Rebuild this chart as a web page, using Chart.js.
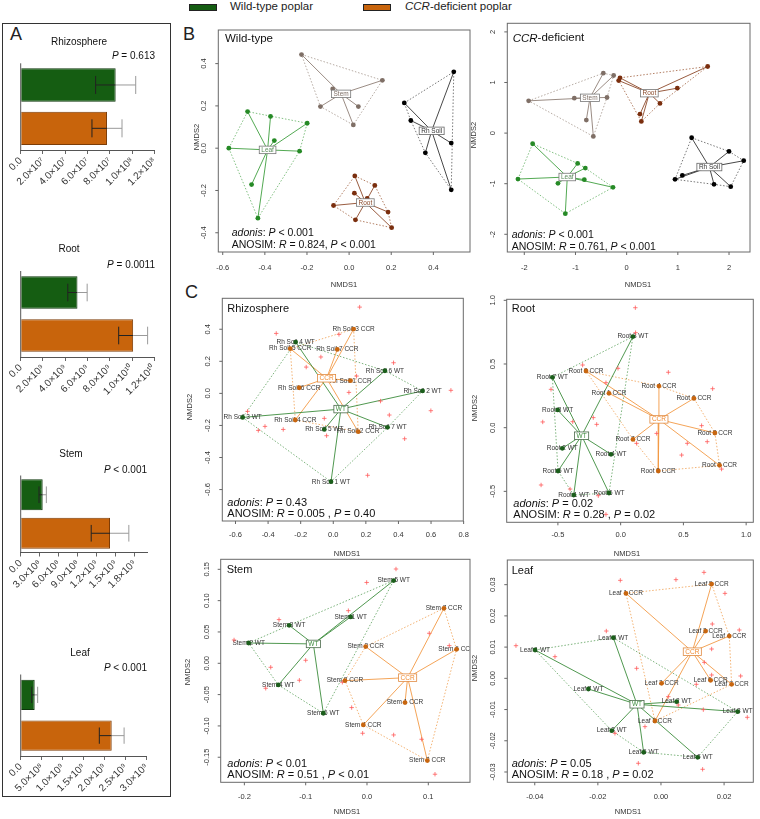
<!DOCTYPE html>
<html><head><meta charset="utf-8">
<script src="https://cdn.jsdelivr.net/npm/chart.js@4.4.1/dist/chart.umd.min.js"></script>
<style>
body{margin:0;background:#fff;width:760px;height:819px;position:relative;overflow:hidden;font-family:"Liberation Sans",Arial,Helvetica,sans-serif}
canvas{position:absolute}
.t{position:absolute;white-space:nowrap;color:#222;line-height:1}
.sw{position:absolute;height:5px;width:26px;border:1px solid #222}
</style></head><body>
<div class="sw" style="left:189px;top:4px;background:#155d12"></div>
<div class="t" style="left:230px;top:1px;font-size:11.5px">Wild-type poplar</div>
<div class="sw" style="left:363px;top:4px;background:#c8640c"></div>
<div class="t" style="left:405px;top:1px;font-size:11.5px"><i>CCR</i>-deficient poplar</div>
<div style="position:absolute;left:2px;top:23px;width:167px;height:772px;border:1.5px solid #333"></div>
<div class="t" style="left:10px;top:24.7px;font-size:18px">A</div>
<div class="t" style="left:183px;top:24.7px;font-size:18px">B</div>
<div class="t" style="left:185px;top:282.8px;font-size:18px">C</div>
<script>
// ================= DATA =================
// ---- Panel A: bar charts (mean, SD) ----
const barGroups = ["Wild-type poplar", "CCR-deficient poplar"];
const rhizoMean = [8.53e7, 7.75e7];
const rhizoSD = [1.8e7, 1.35e7];
const rootMean = [5.1e9, 1.01e10];
const rootSD = [0.87e9, 1.3e9];
const stemMean = [3.47e8, 1.41e9];
const stemSD = [5.8e7, 2.97e8];
const leafMean = [3.33e8, 2.167e9];
const leafSD = [7.1e7, 2.95e8];
const rhizoTicks = [0, 2e7, 4e7, 6e7, 8e7, 1e8, 1.2e8];
const rhizoTickLabels = ["0.0","2.0×10⁷","4.0×10⁷","6.0×10⁷","8.0×10⁷","1.0×10⁸","1.2×10⁸"];
const rootTicks = [0, 2e9, 4e9, 6e9, 8e9, 1e10, 1.2e10];
const rootTickLabels = ["0.0","2.0×10⁹","4.0×10⁹","6.0×10⁹","8.0×10⁹","1.0×10¹⁰","1.2×10¹⁰"];
const stemTicks = [0, 3e8, 6e8, 9e8, 1.2e9, 1.5e9, 1.8e9];
const stemTickLabels = ["0.0","3.0×10⁸","6.0×10⁸","9.0×10⁸","1.2×10⁹","1.5×10⁹","1.8×10⁹"];
const leafTicks = [0, 5e8, 1e9, 1.5e9, 2e9, 2.5e9, 3e9];
const leafTickLabels = ["0.0","5.0×10⁸","1.0×10⁹","1.5×10⁹","2.0×10⁹","2.5×10⁹","3.0×10⁹"];

// ---- Panel B: NMDS, wild-type ----
const bWtLeaf = [[-0.482,0.173],[-0.373,0.150],[-0.199,0.118],[-0.355,0.036],[-0.571,0.0],[-0.235,-0.014],[-0.463,-0.172],[-0.433,-0.331]];
const bWtLeafC = [-0.387,-0.008];
const bWtStem = [[-0.226,0.443],[0.158,0.321],[-0.078,0.280],[-0.136,0.197],[0.044,0.197],[0.020,0.110]];
const bWtStemC = [-0.038,0.257];
const bWtRhSoil = [[0.497,0.361],[0.262,0.214],[0.293,0.131],[0.485,0.024],[0.362,-0.022],[0.485,-0.197]];
const bWtRhSoilC = [0.392,0.082];
const bWtRoot = [[0.027,-0.131],[0.122,-0.176],[0.025,-0.213],[0.086,-0.238],[-0.074,-0.271],[0.185,-0.302],[0.030,-0.339],[0.202,-0.376]];
const bWtRootC = [0.077,-0.257];
// ---- Panel B: NMDS, CCR-deficient ----
const bCcrStem = [[-1.915,0.638],[-1.023,0.691],[-0.456,1.184],[-0.254,1.138],[-0.384,0.704],[-0.788,0.257],[-0.651,-0.066]];
const bCcrStemC = [-0.717,0.697];
const bCcrRoot = [[-0.156,1.039],[-0.130,1.092],[1.583,1.316],[0.990,0.888],[0.651,0.586],[0.261,0.375],[0.287,0.230]];
const bCcrRootC = [0.443,0.789];
const bCcrLeaf = [[-1.837,-0.211],[-0.958,-0.599],[-0.808,-0.691],[-2.124,-0.908],[-1.342,-0.993],[-0.827,-0.921],[-0.267,-1.072],[-1.199,-1.592]];
const bCcrLeafC = [-1.160,-0.868];
const bCcrRhSoil = [[1.270,-0.092],[2.0,-0.362],[2.287,-0.546],[1.088,-0.836],[0.945,-0.914],[1.707,-1.013],[2.033,-1.059]];
const bCcrRhSoilC = [1.616,-0.671];

// ---- Panel C: Rhizosphere ----
const cRhWtNames = ["Rh Soil 4 WT","Rh Soil 6 WT","Rh Soil 2 WT","Rh Soil 3 WT","Rh Soil 5 WT","Rh Soil 7 WT","Rh Soil 1 WT"];
const cRhWt = [[-0.231,0.320],[0.317,0.141],[0.548,0.015],[-0.556,-0.150],[-0.055,-0.225],[0.333,-0.212],[-0.014,-0.551]];
const cRhWtC = [0.047,-0.098];
const cRhCcrNames = ["Rh Soil 3 CCR","Rh Soil 5 CCR","Rh Soil 7 CCR","Rh Soil 1 CCR","Rh Soil 6 CCR","Rh Soil 4 CCR","Rh Soil 2 CCR"];
const cRhCcr = [[0.125,0.401],[-0.264,0.279],[0.025,0.274],[0.106,0.079],[-0.209,0.035],[-0.233,-0.166],[0.153,-0.239]];
const cRhCcrC = [-0.041,0.094];
const cRhSpecies = [[0.162,0.538],[-0.350,0.374],[0.035,0.368],[-0.076,0.227],[-0.166,0.164],[0.370,0.191],[0.143,0.108],[0.096,0.006],[0.722,0.019],[0.290,-0.048],[0.599,-0.108],[0.344,-0.135],[-0.526,-0.112],[-0.460,-0.231],[-0.419,-0.206],[-0.307,-0.225],[-0.055,-0.156],[-0.041,-0.264],[0.438,-0.283],[0.211,-0.511]];
// ---- Panel C: Root ----
const cRootWtNames = ["Root 3 WT","Root 7 WT","Root 8 WT","Root 2 WT","Root 4 WT","Root 5 WT","Root 1 WT","Root 6 WT"];
const cRootWt = [[0.098,0.715],[-0.544,0.395],[-0.502,0.139],[-0.465,-0.162],[-0.077,-0.209],[-0.499,-0.340],[-0.374,-0.529],[-0.093,-0.513]];
const cRootWtC = [-0.311,-0.063];
const cRootCcrNames = ["Root 8 CCR","Root 4 CCR","Root 1 CCR","Root 6 CCR","Root 2 CCR","Root 7 CCR","Root 3 CCR","Root 5 CCR"];
const cRootCcr = [[-0.276,0.445],[0.305,0.327],[-0.093,0.270],[0.584,0.230],[0.751,-0.042],[0.098,-0.092],[0.788,-0.296],[0.300,-0.340]];
const cRootCcrC = [0.305,0.065];
const cRootSpecies = [[0.117,0.942],[0.119,0.746],[-0.303,0.492],[-0.021,0.466],[0.380,0.435],[-0.117,0.353],[0.733,0.306],[-0.555,0.301],[-0.621,0.045],[-0.382,0.047],[-0.218,0.079],[-0.191,0.026],[0.645,0.016],[0.287,-0.045],[0.690,-0.110],[0.531,-0.123],[0.127,-0.123],[0.486,-0.215],[0.804,-0.325],[-0.634,-0.450],[-0.403,-0.482],[-0.178,-0.534],[-0.117,-0.681]];
// ---- Panel C: Stem ----
const cStemWtNames = ["Stem 5 WT","Stem 1 WT","Stem 3 WT","Stem 2 WT","Stem 4 WT","Stem 6 WT"];
const cStemWt = [[0.0435,0.132],[-0.0266,0.074],[-0.127,0.0606],[-0.193,0.0324],[-0.1446,-0.0346],[-0.0712,-0.0798]];
const cStemWtC = [-0.0875,0.0309];
const cStemCcrNames = ["Stem 7 CCR","Stem 6 CCR","Stem 3 CCR","Stem 8 CCR","Stem 1 CCR","Stem 4 CCR","Stem 2 CCR"];
const cStemCcr = [[0.1255,0.0878],[0.146,0.0223],[-0.0022,0.0266],[-0.0359,-0.0277],[0.062,-0.0628],[-0.006,-0.0984],[0.0984,-0.1553]];
const cStemCcrC = [0.0663,-0.0229];
const cStemSpecies = [[0.0473,0.1505],[-0.0005,0.129],[-0.0304,0.084],[-0.1435,0.0697],[-0.2168,0.0372],[0.1016,0.0479],[0.1342,0.0282],[-0.1,0.0048],[-0.157,-0.0064],[-0.1103,-0.0271],[-0.1652,-0.0399],[-0.0402,-0.0303],[-0.025,-0.0707],[-0.0071,-0.1117],[0.0435,-0.1144],[0.0891,-0.1213],[0.1109,-0.1771]];
// ---- Panel C: Leaf ----
const cLeafWtNames = ["Leaf 1 WT","Leaf 4 WT","Leaf 7 WT","Leaf 2 WT","Leaf 8 WT","Leaf 3 WT","Leaf 5 WT","Leaf 6 WT"];
const cLeafWt = [[-0.0399,0.00907],[-0.0151,0.0130],[-0.0230,-0.00342],[0.00496,-0.00747],[0.0243,-0.01067],[-0.0156,-0.01676],[-0.0055,-0.02369],[0.01162,-0.02529]];
const cLeafWtC = [-0.0076,-0.00832];
const cLeafCcrNames = ["Leaf 1 CCR","Leaf 5 CCR","Leaf 2 CCR","Leaf 4 CCR","Leaf 3 CCR","Leaf 6 CCR","Leaf 7 CCR","Leaf 8 CCR"];
const cLeafCcr = [[-0.01109,0.02721],[0.01606,0.0302],[0.01415,0.01515],[0.02165,0.01355],[0.0002,-0.0016],[0.01574,-0.00064],[0.0224,-0.00192],[-0.0019,-0.01366]];
const cLeafCcrC = [0.00993,0.00854];
const cLeafSpecies = [[-0.04595,0.01046],[-0.03359,0.00694],[-0.01289,0.03138],[0.00475,0.0316],[0.01363,0.03394],[0.02028,0.02721],[0.01627,0.0174],[0.02482,0.01548],[-0.01732,0.01515],[0.01606,0.00939],[0.01373,0.00512],[-0.00771,0.0032],[0.0112,-0.00192],[0.01606,0.00107],[0.02525,0.00075],[0.00232,-0.00587],[0.00549,-0.00854],[0.01342,-0.01003],[0.02736,-0.01249],[-0.00507,-0.01547],[-0.00718,-0.02721],[0.0132,-0.02914],[-0.01458,-0.01761]];

// ---- Tick labels for NMDS panels ----
const bWtXTicks = [-0.6,-0.4,-0.2,0,0.2,0.4], bWtXLabels = ["-0.6","-0.4","-0.2","0.0","0.2","0.4"];
const bWtYTicks = [-0.4,-0.2,0,0.2,0.4], bWtYLabels = ["-0.4","-0.2","0.0","0.2","0.4"];
const bCcrXTicks = [-2,-1,0,1,2], bCcrXLabels = ["-2","-1","0","1","2"];
const bCcrYTicks = [-2,-1,0,1,2], bCcrYLabels = ["-2","-1","0","1","2"];
const cRhXTicks = [-0.6,-0.4,-0.2,0,0.2,0.4,0.6,0.8], cRhXLabels = ["-0.6","-0.4","-0.2","0.0","0.2","0.4","0.6","0.8"];
const cRhYTicks = [-0.6,-0.4,-0.2,0,0.2,0.4], cRhYLabels = ["-0.6","-0.4","-0.2","0.0","0.2","0.4"];
const cRootXTicks = [-0.5,0,0.5,1.0], cRootXLabels = ["-0.5","0.0","0.5","1.0"];
const cRootYTicks = [-0.5,0,0.5,1.0], cRootYLabels = ["-0.5","0.0","0.5","1.0"];
const cStemXTicks = [-0.2,-0.1,0,0.1], cStemXLabels = ["-0.2","-0.1","0.0","0.1"];
const cStemYTicks = [-0.15,-0.10,-0.05,0,0.05,0.10,0.15], cStemYLabels = ["-0.15","-0.10","-0.05","0.00","0.05","0.10","0.15"];
const cLeafXTicks = [-0.04,-0.02,0,0.02], cLeafXLabels = ["-0.04","-0.02","0.00","0.02"];
const cLeafYTicks = [-0.03,-0.02,-0.01,0,0.01,0.02,0.03], cLeafYLabels = ["-0.03","-0.02","-0.01","0.00","0.01","0.02","0.03"];

// ================= DRAWING =================
const FONT = '"Liberation Sans", Arial, Helvetica, sans-serif';
const barColors = ['#155d12', '#c8640c'];
const barEdges = ['#0c360a', '#7c3c06'];

function mk(x, y, w, h) {
  const c = document.createElement('canvas');
  c.width = w; c.height = h;
  c.style.left = x + 'px'; c.style.top = y + 'px';
  c.style.width = w + 'px'; c.style.height = h + 'px';
  document.body.appendChild(c);
  return c;
}
function line(ctx, x1, y1, x2, y2) { ctx.beginPath(); ctx.moveTo(x1, y1); ctx.lineTo(x2, y2); ctx.stroke(); }
function segWidth(ctx, segs, size) {
  let w = 0;
  for (const [t, it] of segs) { ctx.font = (it ? 'italic ' : '') + size + 'px ' + FONT; w += ctx.measureText(t).width; }
  return w;
}
function segText(ctx, segs, x, y, size, color) {
  let cx = x;
  ctx.textAlign = 'left'; ctx.textBaseline = 'middle'; ctx.fillStyle = color || '#111';
  for (const [t, it] of segs) {
    ctx.font = (it ? 'italic ' : '') + size + 'px ' + FONT;
    ctx.fillText(t, cx, y);
    cx += ctx.measureText(t).width;
  }
}

function barPanel(o) {
  const [l, t, r, b] = o.area;
  const ct = Math.floor(t) - 32, cw = 175, ch = Math.ceil(b) + 50 - ct;
  const cv = mk(0, ct, cw, ch);
  new Chart(cv, {
    type: 'bar',
    data: { labels: barGroups, datasets: [{ data: o.mean, backgroundColor: barColors, borderColor: barEdges, borderWidth: 1, barPercentage: o.bp, categoryPercentage: 1 }] },
    options: {
      indexAxis: 'y', responsive: false, animation: false, devicePixelRatio: 1,
      layout: { padding: { left: l, right: cw - r, top: t - ct, bottom: 0 } },
      plugins: { legend: { display: false }, tooltip: { enabled: false } },
      scales: {
        x: {
          type: 'linear', min: 0, max: o.max,
          afterBuildTicks: s => { s.ticks = o.ticks.map(v => ({ value: v })); },
          afterFit: s => { s.height = ch - (b - ct); s.paddingLeft = 0; s.paddingRight = 0; },
          ticks: { minRotation: 45, maxRotation: 45, autoSkip: false, color: '#333', padding: 1, font: { family: FONT, size: 10 }, callback: (v, i) => o.labels[i] },
          grid: { drawOnChartArea: false, drawTicks: true, tickLength: 4, color: '#666' },
          border: { display: true, color: '#555' }
        },
        y: { display: false }
      }
    },
    plugins: [{
      id: 'err',
      afterDatasetsDraw(chart) {
        const ctx = chart.ctx, meta = chart.getDatasetMeta(0), xs = chart.scales.x, a = chart.chartArea;
        ctx.save(); ctx.lineWidth = 1;
        meta.data.forEach((bar, i) => {
          const m = o.mean[i], s = o.sd[i];
          const xl = xs.getPixelForValue(m - s), xm = xs.getPixelForValue(m), xh = xs.getPixelForValue(m + s);
          const y = bar.y, c = bar.height * 0.27;
          ctx.strokeStyle = '#222'; line(ctx, xl, y, xm, y); line(ctx, xl, y - c, xl, y + c);
          ctx.strokeStyle = '#9a9a9a'; line(ctx, xm, y, xh, y); line(ctx, xh, y - c, xh, y + c);
        });
        ctx.strokeStyle = '#555'; line(ctx, a.left, a.top, a.left, a.bottom);
        ctx.fillStyle = '#111'; ctx.font = '10px ' + FONT; ctx.textAlign = 'center'; ctx.textBaseline = 'middle';
        ctx.fillText(o.title, o.titleX, o.titleY - ct);
        const w = segWidth(ctx, o.p, 10);
        segText(ctx, o.p, o.pRight - w, o.pY - ct, 10, '#111');
        ctx.restore();
      }
    }]
  });
}

function nmds(o) {
  const [l, t, r, b] = o.area;
  const cl = Math.floor(l) - 45, ct = Math.floor(t) - 12;
  const cw = Math.ceil(r) + 10 - cl, ch = Math.ceil(b) + 42 - ct;
  const cv = mk(cl, ct, cw, ch);
  const ds = [];
  o.groups.forEach(g => ds.push({ kind: 'pts', data: g.pts.map(p => ({ x: p[0], y: p[1] })), pointRadius: 2.4, pointBackgroundColor: g.pt, pointBorderWidth: 0, pointBorderColor: g.pt }));
  ds.push({ kind: 'sp', data: (o.species || []).map(p => ({ x: p[0], y: p[1] })), pointStyle: 'cross', pointRadius: 2.2, pointBorderColor: '#ff5a5a', pointBorderWidth: 0.8 });
  o.groups.forEach(g => g.pts.forEach(p => ds.push({ data: [{ x: g.c[0], y: g.c[1] }, { x: p[0], y: p[1] }], showLine: true, borderColor: g.line, borderWidth: 0.9, pointRadius: 0 })));
  o.groups.forEach(g => {
    const d = g.hull.map(i => ({ x: g.pts[i][0], y: g.pts[i][1] })); d.push(d[0]);
    ds.push({ data: d, showLine: true, borderColor: g.hullc, borderWidth: 0.8, borderDash: [1.5, 1.8], pointRadius: 0 });
  });
  new Chart(cv, {
    type: 'scatter',
    data: { datasets: ds },
    options: {
      responsive: false, animation: false, devicePixelRatio: 1,
      layout: { padding: { left: l - cl, top: t - ct, right: cl + cw - r, bottom: ct + ch - b } },
      plugins: { legend: { display: false }, tooltip: { enabled: false } },
      scales: {
        x: { type: 'linear', display: false, min: o.x[0], max: o.x[1] },
        y: { type: 'linear', display: false, min: o.y[0], max: o.y[1] }
      }
    },
    plugins: [{
      id: 'deco',
      beforeDatasetDraw(chart, args) {
        if (!o.labels || chart.data.datasets[args.index].kind !== 'sp') return;
        const ctx = chart.ctx, a = chart.chartArea, xs = chart.scales.x, ys = chart.scales.y;
        ctx.save(); ctx.beginPath(); ctx.rect(a.left, a.top, a.right - a.left, a.bottom - a.top); ctx.clip();
        ctx.font = '6.5px ' + FONT; ctx.fillStyle = '#333'; ctx.textAlign = 'center'; ctx.textBaseline = 'middle';
        o.groups.forEach(g => g.pts.forEach((p, i) => ctx.fillText(g.names[i], xs.getPixelForValue(p[0]), ys.getPixelForValue(p[1]))));
        ctx.restore();
      },
      afterDraw(chart) {
        const ctx = chart.ctx, a = chart.chartArea, xs = chart.scales.x, ys = chart.scales.y;
        ctx.save();
        // centroid label boxes
        ctx.font = '6.5px ' + FONT; ctx.textAlign = 'center'; ctx.textBaseline = 'middle';
        o.groups.forEach(g => {
          const px = xs.getPixelForValue(g.c[0]), py = ys.getPixelForValue(g.c[1]);
          const w = ctx.measureText(g.box).width + 4, h = 7.5;
          ctx.fillStyle = '#fff'; ctx.fillRect(px - w / 2, py - h / 2, w, h);
          ctx.strokeStyle = g.boxBorder; ctx.lineWidth = 0.8; ctx.strokeRect(px - w / 2, py - h / 2, w, h);
          ctx.fillStyle = g.boxText; ctx.fillText(g.box, px, py + 0.3);
        });
        // frame
        ctx.strokeStyle = '#6a6a6a'; ctx.lineWidth = 1;
        ctx.strokeRect(a.left, a.top, a.right - a.left, a.bottom - a.top);
        // ticks
        ctx.font = '7.5px ' + FONT; ctx.fillStyle = '#333'; ctx.strokeStyle = '#666';
        o.xt.forEach((v, i) => {
          const px = xs.getPixelForValue(v);
          line(ctx, px, a.bottom, px, a.bottom + 3);
          ctx.fillText(o.xtl[i], px, a.bottom + o.xoff);
        });
        o.yt.forEach((v, i) => {
          const py = ys.getPixelForValue(v);
          line(ctx, a.left - 3, py, a.left, py);
          ctx.save(); ctx.translate(a.left - 14, py); ctx.rotate(-Math.PI / 2); ctx.fillText(o.ytl[i], 0, 0); ctx.restore();
        });
        // axis titles
        ctx.fillText('NMDS1', o.xlab[0] - cl, o.xlab[1] - ct);
        ctx.save(); ctx.translate(o.ylab[0] - cl, o.ylab[1] - ct); ctx.rotate(-Math.PI / 2); ctx.fillText('NMDS2', 0, 0); ctx.restore();
        // titles and statistics
        segText(ctx, o.title, o.titleXY[0] - cl, o.titleXY[1] - ct, o.titleSize, '#111');
        segText(ctx, o.stats[0], o.statsX - cl, o.statsY[0] - ct, o.statsSize, '#111');
        segText(ctx, o.stats[1], o.statsX - cl, o.statsY[1] - ct, o.statsSize, '#111');
        ctx.restore();
      }
    }]
  });
}

// ---- Panel A ----
barPanel({ area: [20.7, 63.3, 154.3, 150], max: 1.2e8, ticks: rhizoTicks, labels: rhizoTickLabels, mean: rhizoMean, sd: rhizoSD, bp: 0.77,
  title: 'Rhizosphere', titleX: 79, titleY: 42, p: [['P', 1], [' = 0.613', 0]], pRight: 155, pY: 56 });
barPanel({ area: [20.7, 271, 154.3, 357], max: 1.2e10, ticks: rootTicks, labels: rootTickLabels, mean: rootMean, sd: rootSD, bp: 0.76,
  title: 'Root', titleX: 69, titleY: 249, p: [['P', 1], [' = 0.0011', 0]], pRight: 155, pY: 265 });
barPanel({ area: [20.7, 475.5, 147.4, 552.5], max: 2.0e9, ticks: stemTicks, labels: stemTickLabels, mean: stemMean, sd: stemSD, bp: 0.8,
  title: 'Stem', titleX: 71, titleY: 454, p: [['P', 1], [' < 0.001', 0]], pRight: 147, pY: 470 });
barPanel({ area: [20.7, 674.5, 146.7, 756], max: 3.0e9, ticks: leafTicks, labels: leafTickLabels, mean: leafMean, sd: leafSD, bp: 0.74,
  title: 'Leaf', titleX: 80, titleY: 653, p: [['P', 1], [' < 0.001', 0]], pRight: 147, pY: 668 });

// ---- Panel B ----
const colLeaf = { pt: '#268a26', line: '#3f9f3f', hullc: '#62b062', boxText: '#5a8a5a', boxBorder: '#777' };
const colStem = { pt: '#7f6f66', line: '#8e7f76', hullc: '#a3958c', boxText: '#7f6f66', boxBorder: '#777' };
const colRoot = { pt: '#7a2e0e', line: '#8d4a2a', hullc: '#a0603e', boxText: '#8a4a2a', boxBorder: '#777' };
const colRh = { pt: '#000', line: '#333', hullc: '#555', boxText: '#333', boxBorder: '#666' };
nmds({ area: [218.3, 30, 470, 252], x: [-0.621, 0.574], y: [-0.491, 0.559],
  xt: bWtXTicks, xtl: bWtXLabels, yt: bWtYTicks, ytl: bWtYLabels, xoff: 16,
  groups: [
    Object.assign({ pts: bWtLeaf, c: bWtLeafC, hull: [4, 0, 2, 5, 7], box: 'Leaf' }, colLeaf),
    Object.assign({ pts: bWtStem, c: bWtStemC, hull: [0, 1, 5, 3], box: 'Stem' }, colStem),
    Object.assign({ pts: bWtRhSoil, c: bWtRhSoilC, hull: [1, 0, 5, 4, 2], box: 'Rh Soil' }, colRh),
    Object.assign({ pts: bWtRoot, c: bWtRootC, hull: [0, 1, 5, 7, 6, 4], box: 'Root' }, colRoot)
  ],
  title: [['Wild-type', 0]], titleXY: [225, 39], titleSize: 11.5,
  stats: [[['adonis', 1], [': ', 0], ['P', 1], [' < 0.001', 0]], [['ANOSIM: ', 0], ['R', 1], [' = 0.824, ', 0], ['P', 1], [' < 0.001', 0]]],
  statsX: 231.7, statsY: [232.7, 244.7], statsSize: 10.5, xlab: [344, 285], ylab: [197, 137] });
nmds({ area: [507.3, 23.3, 750, 252], x: [-2.332, 2.41], y: [-2.35, 2.17],
  xt: bCcrXTicks, xtl: bCcrXLabels, yt: bCcrYTicks, ytl: bCcrYLabels, xoff: 16,
  groups: [
    Object.assign({ pts: bCcrStem, c: bCcrStemC, hull: [0, 2, 3, 4, 6], box: 'Stem' }, colStem),
    Object.assign({ pts: bCcrRoot, c: bCcrRootC, hull: [0, 1, 2, 4, 6], box: 'Root' }, colRoot),
    Object.assign({ pts: bCcrLeaf, c: bCcrLeafC, hull: [3, 0, 1, 2, 6, 7], box: 'Leaf' }, colLeaf),
    Object.assign({ pts: bCcrRhSoil, c: bCcrRhSoilC, hull: [0, 1, 2, 6, 5, 4], box: 'Rh Soil' }, colRh)
  ],
  title: [['CCR', 1], ['-deficient', 0]], titleXY: [512.7, 38.3], titleSize: 11.5,
  stats: [[['adonis', 1], [': ', 0], ['P', 1], [' < 0.001', 0]], [['ANOSIM: ', 0], ['R', 1], [' = 0.761, ', 0], ['P', 1], [' < 0.001', 0]]],
  statsX: 511.7, statsY: [235, 246.7], statsSize: 10.5, xlab: [638, 285], ylab: [474, 135] });

// ---- Panel C ----
const colWT = { pt: '#1b5e1b', line: '#3c8c3c', hullc: '#5a9f5a', boxText: '#3c8c3c', boxBorder: '#4a6a4a' };
const colCCR = { pt: '#c8660f', line: '#f39a45', hullc: '#f0a050', boxText: '#f08a30', boxBorder: '#e08a40' };
nmds({ area: [222.3, 298.3, 463.3, 521], x: [-0.681, 0.798], y: [-0.796, 0.593], labels: true,
  xt: cRhXTicks, xtl: cRhXLabels, yt: cRhYTicks, ytl: cRhYLabels, xoff: 13.5, species: cRhSpecies,
  groups: [
    Object.assign({ pts: cRhWt, names: cRhWtNames, c: cRhWtC, hull: [3, 0, 1, 2, 5, 6], box: 'WT' }, colWT),
    Object.assign({ pts: cRhCcr, names: cRhCcrNames, c: cRhCcrC, hull: [1, 0, 6, 5], box: 'CCR' }, colCCR)
  ],
  title: [['Rhizosphere', 0]], titleXY: [227.3, 309], titleSize: 11,
  stats: [[['adonis', 1], [': ', 0], ['P', 1], [' = 0.43', 0]], [['ANOSIM: ', 0], ['R', 1], [' = 0.005 , ', 0], ['P', 1], [' = 0.40', 0]]],
  statsX: 227.3, statsY: [503.3, 514.3], statsSize: 11, xlab: [347, 554], ylab: [190, 407] });
nmds({ area: [506.7, 299.3, 753.3, 522.3], x: [-0.908, 1.057], y: [-0.743, 1.008], labels: true,
  xt: cRootXTicks, xtl: cRootXLabels, yt: cRootYTicks, ytl: cRootYLabels, xoff: 13, species: cRootSpecies,
  groups: [
    Object.assign({ pts: cRootWt, names: cRootWtNames, c: cRootWtC, hull: [1, 0, 7, 6, 5], box: 'WT' }, colWT),
    Object.assign({ pts: cRootCcr, names: cRootCcrNames, c: cRootCcrC, hull: [0, 1, 3, 4, 6, 7, 5], box: 'CCR' }, colCCR)
  ],
  title: [['Root', 0]], titleXY: [511.7, 309], titleSize: 11,
  stats: [[['adonis', 1], [': ', 0], ['P', 1], [' = 0.02', 0]], [['ANOSIM: ', 0], ['R', 1], [' = 0.28 , ', 0], ['P', 1], [' = 0.02', 0]]],
  statsX: 513.3, statsY: [504, 515], statsSize: 11, xlab: [627, 554], ylab: [475, 408] });
nmds({ area: [220.7, 559.3, 470, 782.3], x: [-0.2386, 0.168], y: [-0.190, 0.166], labels: true,
  xt: cStemXTicks, xtl: cStemXLabels, yt: cStemYTicks, ytl: cStemYLabels, xoff: 14.4, species: cStemSpecies,
  groups: [
    Object.assign({ pts: cStemWt, names: cStemWtNames, c: cStemWtC, hull: [3, 2, 0, 5, 4], box: 'WT' }, colWT),
    Object.assign({ pts: cStemCcr, names: cStemCcrNames, c: cStemCcrC, hull: [2, 0, 1, 6, 5, 3], box: 'CCR' }, colCCR)
  ],
  title: [['Stem', 0]], titleXY: [226.7, 570], titleSize: 11,
  stats: [[['adonis', 1], [': ', 0], ['P', 1], [' < 0.01', 0]], [['ANOSIM: ', 0], ['R', 1], [' = 0.51 , ', 0], ['P', 1], [' < 0.01', 0]]],
  statsX: 227.3, statsY: [764, 775], statsSize: 11, xlab: [347, 812], ylab: [188, 672] });
nmds({ area: [507.3, 560, 753.3, 782.3], x: [-0.0487, 0.02926], y: [-0.0333, 0.0379], labels: true,
  xt: cLeafXTicks, xtl: cLeafXLabels, yt: cLeafYTicks, ytl: cLeafYLabels, xoff: 14.4, species: cLeafSpecies,
  groups: [
    Object.assign({ pts: cLeafWt, names: cLeafWtNames, c: cLeafWtC, hull: [0, 1, 4, 7, 6, 5], box: 'WT' }, colWT),
    Object.assign({ pts: cLeafCcr, names: cLeafCcrNames, c: cLeafCcrC, hull: [0, 1, 3, 6, 7], box: 'CCR' }, colCCR)
  ],
  title: [['Leaf', 0]], titleXY: [511.7, 570.7], titleSize: 11,
  stats: [[['adonis', 1], [': ', 0], ['P', 1], [' = 0.05', 0]], [['ANOSIM: ', 0], ['R', 1], [' = 0.18 , ', 0], ['P', 1], [' = 0.02', 0]]],
  statsX: 511.7, statsY: [764, 775], statsSize: 11, xlab: [628, 812], ylab: [475, 668] });
</script>
</body></html>
